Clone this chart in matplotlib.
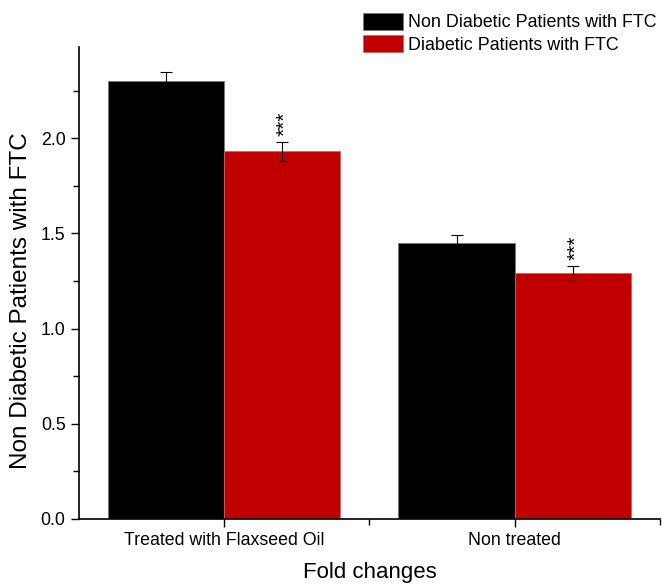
import matplotlib.pyplot as plt
import numpy as np
from matplotlib.ticker import MultipleLocator, FixedLocator

plt.rcParams['font.family'] = ['Liberation Sans', 'DejaVu Sans']

# data
groups = ['Treated with Flaxseed Oil', 'Non treated']
series = ['Non Diabetic Patients with FTC', 'Diabetic Patients with FTC']
non_diabetic = [2.30, 1.45]
non_diabetic_err = [0.05, 0.04]
diabetic = [1.93, 1.29]
diabetic_err = [0.05, 0.04]
signif = ['***', '***']

fig = plt.figure(figsize=(6.62, 5.85), dpi=100)
ax = fig.add_axes([0.119, 0.113, 0.878, 0.807])

x = np.arange(len(groups))
w = 0.4
err_kw = dict(ecolor='black', elinewidth=0.8, capsize=4, capthick=0.8)
ax.bar(x - w / 2, non_diabetic, w, yerr=non_diabetic_err, color='black',
       edgecolor='#777777', linewidth=0.6, error_kw=err_kw, label=series[0])
ax.bar(x + w / 2, diabetic, w, yerr=diabetic_err, color='#c00000',
       edgecolor='#d06060', linewidth=0.6, error_kw=err_kw, label=series[1])

# significance marks above the diabetic bars
for xi, v, e, s in zip(x, diabetic, diabetic_err, signif):
    ax.text(xi + w / 2 + 0.01, v + e + 0.03, s, rotation=90, ha='center', va='bottom',
            fontsize=15, color='black')

ax.set_xlim(-0.5, 1.5)
ax.set_ylim(0, 2.48)
ax.set_xticks(x)
ax.set_xticklabels(groups)
ax.xaxis.set_minor_locator(FixedLocator([0.5, 1.5]))
ax.yaxis.set_major_locator(MultipleLocator(0.5))
ax.yaxis.set_minor_locator(MultipleLocator(0.25))
ax.tick_params(axis='both', which='major', direction='out', length=6, width=1, labelsize=12.8)
ax.tick_params(axis='both', which='minor', direction='out', length=4, width=1)
ax.yaxis.set_major_formatter(plt.FuncFormatter(lambda v, p: f'{v:.1f}'))

for side in ['top', 'right']:
    ax.spines[side].set_visible(False)
for side in ['left', 'bottom']:
    ax.spines[side].set_linewidth(1.2)

ax.set_xlabel('Fold changes', fontsize=16, labelpad=9)
ax.set_ylabel('Non Diabetic Patients with FTC', fontsize=17.5)
ax.yaxis.set_label_coords(-0.08, 0.462)

fig.legend(loc='upper left', bbox_to_anchor=(363 / 662, 1 - 13 / 585),
           frameon=False, fontsize=12.9, handlelength=2.23, handleheight=1.06,
           handletextpad=0.3, labelspacing=0.2, borderpad=0, borderaxespad=0)

fig.savefig('out.png', dpi=100)
